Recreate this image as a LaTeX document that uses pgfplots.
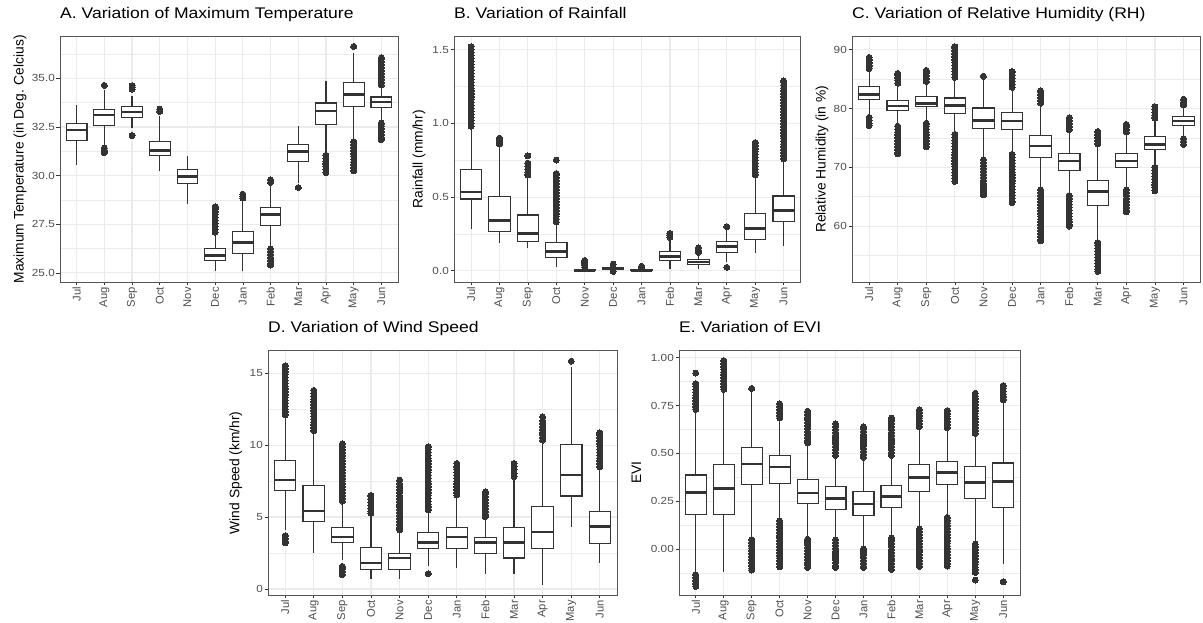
\documentclass[border=0pt]{standalone}
\usepackage{fontspec}
\setmainfont{Liberation Sans}[FakeStretch=1.14]
\newfontfamily\rotfont{Liberation Sans}
\usepackage{pgfplots}
\pgfplotsset{compat=1.18}
\usepgfplotslibrary{statistics}
\definecolor{c333}{HTML}{333333}
\definecolor{tickgray}{HTML}{4D4D4D}
\definecolor{gridgray}{HTML}{EBEBEB}
\definecolor{framegray}{HTML}{555555}
\pgfplotsset{
  panel/.style={
    scale only axis,
    xmin=0.4, xmax=12.6,
    xtick={1,2,3,4,5,6,7,8,9,10,11,12},
    xticklabels={Jul,Aug,Sep,Oct,Nov,Dec,Jan,Feb,Mar,Apr,May,Jun},
    x tick label style={rotate=90, anchor=east, font=\rotfont\fontsize{11.2}{12}\selectfont, text=tickgray, inner sep=1.5pt},
    y tick label style={font=\fontsize{10.3}{11}\selectfont, text=tickgray, inner sep=1.5pt},
    /pgf/number format/assume math mode=true,
    scaled y ticks=false,
    tick align=outside, tick pos=left,
    major tick length=3.5pt, minor tick length=0pt,
    tick style={draw=c333, line width=0.7pt},
    axis line style={draw=framegray, line width=0.8pt},
    xmajorgrids, ymajorgrids, yminorgrids,
    major grid style={draw=gridgray, line width=1.1pt},
    minor grid style={draw=gridgray, line width=0.55pt},
    title style={at={(axis description cs:0,1)}, anchor=base west, yshift=11.8pt, inner sep=0pt, font=\fontsize{15.4}{16}\selectfont},
    ylabel style={font=\rotfont\fontsize{13.8}{14}\selectfont, anchor=center},
    boxplot/draw direction=y,
    boxplot/box extend=0.75,
    boxplot/whisker extend=0,
    boxplot/every median/.style={line width=2.6pt},
    boxplot/every box/.style={fill=white},
  },
  bxs/.style={draw=c333, line width=1.1pt, solid, mark=*, mark size=3pt, mark options={draw=c333, fill=c333, line width=0pt, solid}},
}
\newcommand{\bx}[7]{\addplot[bxs, boxplot prepared={draw position=#1, lower whisker=#2, lower quartile=#3, median=#4, upper quartile=#5, upper whisker=#6}] table[row sep=\\, y index=0] {v\\ #7};}
\newcommand{\bxn}[6]{\addplot[bxs, boxplot prepared={draw position=#1, lower whisker=#2, lower quartile=#3, median=#4, upper quartile=#5, upper whisker=#6}] coordinates {};}
\begin{document}
\begin{tikzpicture}
\useasboundingbox (0,0) rectangle (1203pt,623pt);
% ---------------- A
\begin{axis}[panel, at={(60pt,341pt)}, anchor=south west, width=338pt, height=245.5pt,
  ymin=24.535, ymax=37.15, ytick={25,27.5,30,32.5,35}, minor ytick={26.25,28.75,31.25,33.75,36.25},
  /pgf/number format/fixed, /pgf/number format/fixed zerofill, /pgf/number format/precision=1,
  title={A. Variation of Maximum Temperature},
  ylabel={Maximum Temperature (in Deg. Celcius)}, ylabel style={at={(axis description cs:-0.118,0.5)}}]
\bxn{1}{30.56}{31.80}{32.35}{32.69}{33.61}
\bx{2}{31.5}{32.59}{33.11}{33.42}{34.4}{34.64\\31.42\\31.3\\31.18\\}
\bx{3}{32.45}{32.99}{33.28}{33.57}{34.1}{34.45\\34.55\\34.62\\32.06\\}
\bx{4}{30.22}{31.04}{31.3}{31.76}{33.05}{33.3\\33.42\\}
\bxn{5}{28.53}{29.58}{29.96}{30.30}{30.99}
\bx{6}{25.1}{25.65}{25.91}{26.26}{27.03}{27.1\\27.25\\27.4\\27.55\\27.7\\27.85\\28.0\\28.15\\28.3\\28.4\\}
\bx{7}{25.1}{26.0}{26.57}{27.15}{28.75}{28.85\\28.95\\29.05\\}
\bx{8}{26.34}{27.46}{28.0}{28.36}{29.53}{29.65\\29.78\\26.25\\26.1\\25.95\\25.8\\25.65\\25.5\\25.4\\}
\bx{9}{29.61}{30.73}{31.23}{31.59}{32.54}{29.39\\}
\bx{10}{31.13}{32.61}{33.33}{33.73}{34.86}{31.05\\30.9\\30.75\\30.6\\30.45\\30.3\\30.15\\}
\bx{11}{31.85}{33.57}{34.16}{34.79}{36.3}{36.64\\31.75\\31.6\\31.45\\31.3\\31.15\\31.0\\30.85\\30.7\\30.55\\30.4\\30.25\\}
\bx{12}{32.8}{33.49}{33.78}{34.04}{34.55}{34.65\\34.8\\34.95\\35.1\\35.25\\35.4\\35.55\\35.7\\35.85\\36.0\\36.07\\32.7\\32.55\\32.4\\32.25\\32.1\\31.95\\31.85\\}
\end{axis}
% ---------------- B
\begin{axis}[panel, at={(454pt,341pt)}, anchor=south west, width=346.7pt, height=245.5pt,
  ymin=-0.0766, ymax=1.59, ytick={0,0.5,1,1.5}, minor ytick={0.25,0.75,1.25},
  /pgf/number format/fixed, /pgf/number format/fixed zerofill, /pgf/number format/precision=1,
  title={B. Variation of Rainfall},
  ylabel={Rainfall (mm/hr)}, ylabel style={at={(axis description cs:-0.101,0.5)}}]
\bx{1}{0.28}{0.487}{0.533}{0.687}{0.96}{0.98\\1.00\\1.02\\1.04\\1.06\\1.08\\1.10\\1.12\\1.14\\1.16\\1.18\\1.20\\1.22\\1.24\\1.26\\1.28\\1.30\\1.32\\1.34\\1.36\\1.38\\1.40\\1.42\\1.44\\1.46\\1.48\\1.50\\1.52\\}
\bx{2}{0.186}{0.267}{0.339}{0.505}{0.84}{0.86\\0.88\\0.90\\}
\bx{3}{0.152}{0.197}{0.253}{0.378}{0.635}{0.65\\0.67\\0.69\\0.71\\0.73\\0.78\\}
\bx{4}{0.027}{0.092}{0.129}{0.192}{0.31}{0.33\\0.35\\0.37\\0.39\\0.41\\0.43\\0.45\\0.47\\0.49\\0.51\\0.53\\0.55\\0.57\\0.59\\0.61\\0.63\\0.65\\0.66\\0.751\\}
\bx{5}{0.0}{0.0}{0.002}{0.006}{0.015}{0.025\\0.04\\0.055\\0.07\\}
\bx{6}{0.005}{0.011}{0.016}{0.023}{0.035}{0.045\\-0.005\\}
\bx{7}{0.0}{0.0}{0.002}{0.006}{0.014}{0.022\\0.03\\}
\bx{8}{0.009}{0.068}{0.095}{0.133}{0.2}{0.226\\0.24\\0.253\\}
\bx{9}{0.014}{0.043}{0.059}{0.077}{0.11}{0.125\\0.14\\0.155\\}
\bx{10}{0.061}{0.124}{0.163}{0.197}{0.276}{0.299\\0.023\\}
\bx{11}{0.118}{0.213}{0.285}{0.389}{0.63}{0.65\\0.67\\0.69\\0.71\\0.73\\0.75\\0.77\\0.79\\0.81\\0.83\\0.85\\0.87\\}
\bx{12}{0.167}{0.333}{0.41}{0.507}{0.74}{0.76\\0.78\\0.80\\0.82\\0.84\\0.86\\0.88\\0.90\\0.92\\0.94\\0.96\\0.98\\1.00\\1.02\\1.04\\1.06\\1.08\\1.10\\1.12\\1.14\\1.16\\1.18\\1.20\\1.22\\1.24\\1.26\\1.28\\1.29\\}
\end{axis}
% ---------------- C
\begin{axis}[panel, at={(852pt,341pt)}, anchor=south west, width=348.7pt, height=245.5pt,
  ymin=50.49, ymax=92.26, ytick={60,70,80,90}, minor ytick={55,65,75,85},
  title={C. Variation of Relative Humidity (RH)},
  ylabel={Relative Humidity (in \%)}, ylabel style={at={(axis description cs:-0.086,0.5)}}]
\bx{1}{79.0}{81.57}{82.42}{83.77}{86.5}{86.8\\87.3\\87.8\\88.3\\88.7\\78.5\\78.0\\77.5\\77.1\\}
\bx{2}{77.3}{79.7}{80.4}{81.4}{84.0}{84.3\\84.8\\85.3\\85.8\\86.0\\77.0\\76.5\\76.0\\75.5\\75.0\\74.5\\74.0\\73.5\\73.0\\72.5\\72.3\\}
\bx{3}{77.8}{80.3}{80.9}{82.0}{84.3}{84.6\\85.1\\85.6\\86.1\\86.5\\77.5\\77.0\\76.5\\76.0\\75.5\\75.0\\74.5\\74.0\\73.5\\}
\bx{4}{76.0}{79.2}{80.5}{81.8}{85.0}{85.3\\85.8\\86.3\\86.8\\87.3\\87.8\\88.3\\88.8\\89.3\\89.8\\90.3\\90.5\\75.6\\75.1\\74.6\\74.1\\73.6\\73.1\\72.6\\72.1\\71.6\\71.1\\70.6\\70.1\\69.6\\69.1\\68.6\\68.1\\67.6\\}
\bx{5}{71.5}{76.6}{78.0}{80.1}{84.8}{85.5\\71.3\\70.8\\70.3\\69.8\\69.3\\68.8\\68.3\\67.8\\67.3\\66.8\\66.3\\65.8\\65.3\\}
\bx{6}{72.5}{76.5}{77.9}{79.4}{83.3}{83.6\\84.1\\84.6\\85.1\\85.6\\86.1\\86.3\\72.2\\71.7\\71.2\\70.7\\70.2\\69.7\\69.2\\68.7\\68.2\\67.7\\67.2\\66.7\\66.2\\65.7\\65.2\\64.7\\64.2\\64.0\\}
\bx{7}{66.5}{71.6}{73.6}{75.4}{80.6}{80.9\\81.4\\81.9\\82.4\\82.9\\83.0\\66.2\\65.7\\65.2\\64.7\\64.2\\63.7\\63.2\\62.7\\62.2\\61.7\\61.2\\60.7\\60.2\\59.7\\59.2\\58.7\\58.2\\57.7\\57.5\\}
\bx{8}{65.5}{69.4}{71.1}{72.3}{76.1}{76.4\\76.9\\77.4\\77.9\\78.4\\65.2\\64.7\\64.2\\63.7\\63.2\\62.7\\62.2\\61.7\\61.2\\60.7\\60.2\\60.0\\}
\bx{9}{57.5}{63.5}{65.9}{67.7}{73.7}{74.0\\74.5\\75.0\\75.5\\76.0\\76.1\\57.2\\56.7\\56.2\\55.7\\55.2\\54.7\\54.2\\53.7\\53.2\\52.7\\52.3\\}
\bx{10}{66.5}{69.9}{71.1}{72.4}{75.7}{76.0\\76.5\\77.0\\77.3\\66.2\\65.7\\65.2\\64.7\\64.2\\63.7\\63.2\\62.7\\62.4\\}
\bx{11}{70.3}{73.1}{73.9}{75.3}{78.0}{78.4\\78.9\\79.4\\79.9\\80.3\\70.0\\69.5\\69.0\\68.5\\68.0\\67.5\\67.0\\66.5\\66.0\\}
\bx{12}{75.2}{77.1}{77.9}{78.7}{80.3}{80.6\\81.1\\81.6\\74.9\\74.4\\73.9\\}
\end{axis}
% ---------------- D
\begin{axis}[panel, at={(268pt,28pt)}, anchor=south west, width=349pt, height=244.5pt,
  ymin=-0.417, ymax=16.57, ytick={0,5,10,15}, minor ytick={2.5,7.5,12.5},
  title={D. Variation of Wind Speed},
  ylabel={Wind Speed (km/hr)}, ylabel style={at={(axis description cs:-0.092,0.5)}}]
\bx{1}{4.1}{6.83}{7.57}{8.95}{11.95}{12.1\\12.3\\12.5\\12.7\\12.9\\13.1\\13.3\\13.5\\13.7\\13.9\\14.1\\14.3\\14.5\\14.7\\14.9\\15.1\\15.3\\15.5\\3.7\\3.5\\3.3\\3.2\\}
\bx{2}{2.49}{4.68}{5.42}{7.16}{10.9}{11.0\\11.2\\11.4\\11.6\\11.8\\12.0\\12.2\\12.4\\12.6\\12.8\\13.0\\13.2\\13.4\\13.6\\13.8\\}
\bx{3}{2.03}{3.23}{3.6}{4.29}{5.95}{6.1\\6.3\\6.5\\6.7\\6.9\\7.1\\7.3\\7.5\\7.7\\7.9\\8.1\\8.3\\8.5\\8.7\\8.9\\9.1\\9.3\\9.5\\9.7\\9.9\\10.1\\1.57\\1.4\\1.2\\1.0\\}
\bx{4}{0.69}{1.38}{1.8}{2.86}{5.08}{5.26\\5.4\\5.6\\5.8\\6.0\\6.2\\6.4\\6.5\\}
\bx{5}{0.69}{1.38}{2.15}{2.49}{4.0}{4.1\\4.3\\4.5\\4.7\\4.9\\5.1\\5.3\\5.5\\5.7\\5.9\\6.1\\6.3\\6.5\\6.7\\6.9\\7.1\\7.3\\7.57\\}
\bx{6}{1.57}{2.84}{3.25}{3.95}{5.38}{5.5\\5.7\\5.9\\6.1\\6.3\\6.5\\6.7\\6.9\\7.1\\7.3\\7.5\\7.7\\7.9\\8.1\\8.3\\8.5\\8.7\\8.9\\9.1\\9.3\\9.5\\9.7\\9.88\\1.06\\}
\bx{7}{1.45}{2.84}{3.6}{4.29}{6.42}{6.53\\6.7\\6.9\\7.1\\7.3\\7.5\\7.7\\7.9\\8.1\\8.3\\8.5\\8.72\\}
\bx{8}{1.06}{2.49}{3.25}{3.6}{4.92}{5.03\\5.2\\5.4\\5.6\\5.8\\6.0\\6.2\\6.4\\6.6\\6.76\\}
\bx{9}{1.06}{2.15}{3.25}{4.29}{7.57}{7.8\\8.0\\8.3\\8.5\\8.72\\}
\bx{10}{0.3}{2.84}{3.95}{5.72}{10.1}{10.34\\10.5\\10.7\\10.9\\11.1\\11.3\\11.5\\11.7\\11.95\\}
\bx{11}{4.29}{6.46}{7.92}{10.06}{15.4}{15.83\\}
\bx{12}{1.8}{3.18}{4.34}{5.38}{8.38}{8.49\\8.7\\8.9\\9.1\\9.3\\9.5\\9.7\\9.9\\10.1\\10.3\\10.5\\10.7\\10.85\\}
\end{axis}
% ---------------- E
\begin{axis}[panel, at={(679pt,28pt)}, anchor=south west, width=341pt, height=244.5pt,
  ymin=-0.24, ymax=1.038, ytick={0,0.25,0.5,0.75,1}, minor ytick={-0.125,0.125,0.375,0.625,0.875},
  /pgf/number format/fixed, /pgf/number format/fixed zerofill, /pgf/number format/precision=2,
  title={E. Variation of EVI},
  ylabel={EVI}, ylabel style={at={(axis description cs:-0.125,0.5)}}]
\bx{1}{-0.122}{0.183}{0.297}{0.387}{0.716}{0.73\\0.745\\0.76\\0.775\\0.79\\0.805\\0.82\\0.835\\0.85\\0.865\\0.92\\-0.135\\-0.15\\-0.165\\-0.18\\-0.195\\}
\bx{2}{-0.122}{0.183}{0.318}{0.44}{0.82}{0.835\\0.85\\0.865\\0.88\\0.895\\0.91\\0.925\\0.94\\0.955\\0.97\\0.985\\}
\bx{3}{0.06}{0.337}{0.445}{0.532}{0.83}{0.84\\0.05\\0.035\\0.02\\0.005\\-0.01\\-0.025\\-0.04\\-0.055\\-0.07\\-0.085\\-0.1\\-0.11\\}
\bx{4}{0.157}{0.344}{0.428}{0.487}{0.672}{0.685\\0.7\\0.715\\0.73\\0.745\\0.76\\0.148\\0.133\\0.118\\0.103\\0.088\\0.073\\0.058\\0.043\\0.028\\0.013\\-0.002\\-0.017\\-0.032\\-0.047\\-0.062\\-0.077\\-0.092\\}
\bx{5}{0.061}{0.236}{0.293}{0.366}{0.541}{0.555\\0.57\\0.585\\0.6\\0.615\\0.63\\0.645\\0.66\\0.675\\0.69\\0.705\\0.72\\0.052\\0.037\\0.022\\0.007\\-0.008\\-0.023\\-0.038\\-0.053\\-0.068\\-0.083\\-0.096\\}
\bx{6}{0.058}{0.209}{0.265}{0.326}{0.48}{0.49\\0.505\\0.52\\0.535\\0.55\\0.565\\0.58\\0.595\\0.61\\0.625\\0.64\\0.655\\0.049\\0.034\\0.019\\0.004\\-0.011\\-0.026\\-0.041\\-0.056\\-0.071\\-0.086\\-0.096\\}
\bx{7}{0.009}{0.175}{0.236}{0.302}{0.471}{0.48\\0.495\\0.51\\0.525\\0.54\\0.555\\0.57\\0.585\\0.6\\0.615\\0.63\\0.64\\0.0\\-0.015\\-0.03\\-0.045\\-0.06\\-0.075\\-0.09\\-0.096\\}
\bx{8}{0.065}{0.218}{0.276}{0.332}{0.48}{0.49\\0.505\\0.52\\0.535\\0.55\\0.565\\0.58\\0.595\\0.61\\0.625\\0.64\\0.655\\0.67\\0.685\\0.058\\0.043\\0.028\\0.013\\-0.002\\-0.017\\-0.032\\-0.047\\-0.062\\-0.077\\-0.092\\-0.107\\}
\bx{9}{0.113}{0.3}{0.373}{0.442}{0.628}{0.64\\0.655\\0.67\\0.685\\0.7\\0.715\\0.728\\0.105\\0.09\\0.075\\0.06\\0.045\\0.03\\0.015\\0.0\\-0.015\\-0.03\\-0.045\\-0.06\\-0.075\\-0.09\\}
\bx{10}{0.175}{0.337}{0.401}{0.457}{0.62}{0.635\\0.65\\0.665\\0.68\\0.695\\0.71\\0.724\\0.166\\0.151\\0.136\\0.121\\0.106\\0.091\\0.076\\0.061\\0.046\\0.031\\0.016\\0.001\\-0.014\\-0.029\\-0.044\\-0.059\\-0.074\\-0.089\\}
\bx{11}{0.035}{0.265}{0.347}{0.431}{0.593}{0.605\\0.62\\0.635\\0.65\\0.665\\0.68\\0.695\\0.71\\0.725\\0.74\\0.755\\0.77\\0.785\\0.8\\0.815\\0.026\\0.011\\-0.004\\-0.019\\-0.034\\-0.049\\-0.064\\-0.079\\-0.094\\-0.109\\-0.122\\-0.162\\}
\bx{12}{-0.079}{0.218}{0.354}{0.45}{0.768}{0.78\\0.795\\0.81\\0.825\\0.84\\0.855\\-0.171\\}
\end{axis}
\end{tikzpicture}
\end{document}
